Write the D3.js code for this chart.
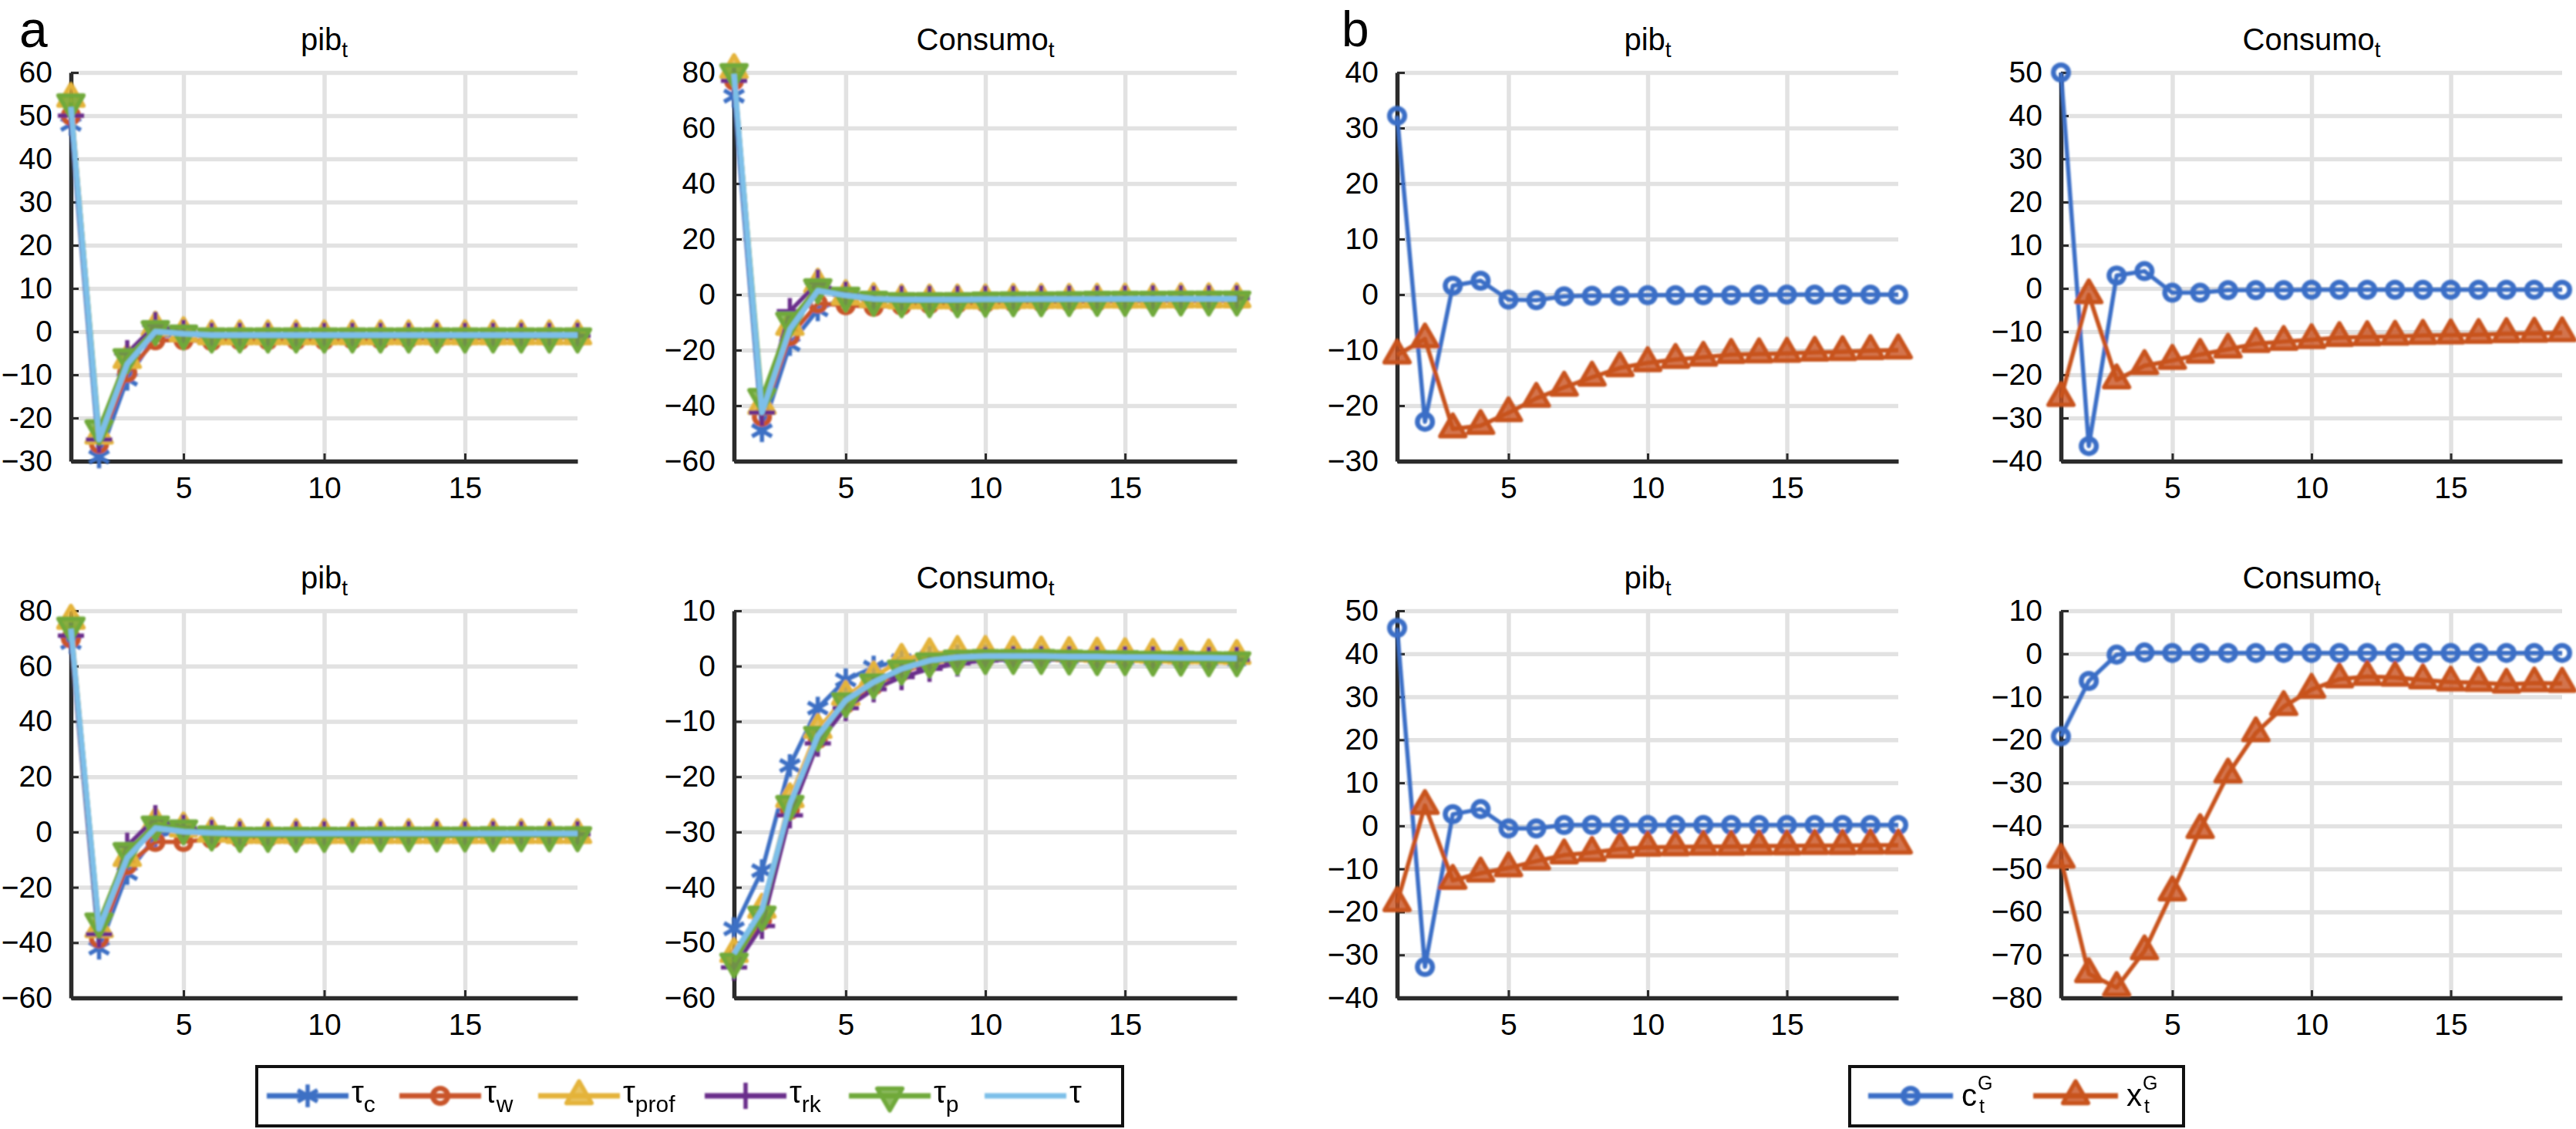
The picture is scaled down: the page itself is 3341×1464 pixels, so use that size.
<!DOCTYPE html>
<html>
<head>
<meta charset="utf-8">
<script src="https://cdn.jsdelivr.net/npm/d3@7"></script>
<style>
  body { margin: 0; background: #fff; }
  svg { display: block; font-family: "Liberation Sans", Arial, Helvetica, sans-serif; }
</style>
</head>
<body>
<svg id="chart" width="3341" height="1464"></svg>
<script>
// horizon (quarters after the shock) and shared x ticks
const horizon = [1, 2, 3, 4, 5, 6, 7, 8, 9, 10, 11, 12, 13, 14, 15, 16, 17, 18, 19];
const xTicks = [5, 10, 15];

// panel a: one row per tax shock, order tc, tw, tprof, trk, tp, t
const taxSubs = ['c', 'w', 'prof', 'rk', 'p', ''];
const taxColors = ['#3d70c4', '#c9552b', '#e4b33a', '#6b2d8b', '#70a93a', '#7dbfe9'];
const taxMarkers = ['asterisk', 'circle', 'up', 'plus', 'down', null];

const aPibTop = [
  [48, -29, -11, -1, -0.8, -1, -1, -1, -1, -1, -1, -1, -1, -1, -1, -1, -1, -1, -1],
  [50, -26, -9.5, -2, -2, -2.2, -2, -2, -2, -2, -1.8, -1.8, -1.6, -1.6, -1.5, -1.5, -1.5, -1.4, -1.4],
  [54, -24, -6.5, 1, -0.3, -1, -1, -1, -1, -1, -1, -1, -1, -1, -1, -1, -1, -1, -1],
  [50, -25, -5, 1.5, -0.3, -1, -1, -1, -1, -1, -1, -1, -1, -1, -1, -1, -1, -1, -1],
  [53, -22.5, -6, 0.5, -0.5, -1.2, -1.2, -1.2, -1.2, -1.2, -1.2, -1.2, -1.2, -1.2, -1.2, -1.2, -1.2, -1.2, -1.2],
  [52, -25, -7.5, 0, -0.5, -0.8, -0.8, -0.8, -0.8, -0.8, -0.8, -0.8, -0.8, -0.8, -0.8, -0.8, -0.8, -0.8, -0.8]
];
const aConsTop = [
  [71.5, -49, -18, -5.5, -1, -1.5, -1.8, -1.8, -1.8, -1.8, -1.8, -1.7, -1.7, -1.7, -1.6, -1.6, -1.6, -1.5, -1.5],
  [77, -44, -15, -3.2, -3.8, -4.4, -4, -3.5, -3.2, -3, -2.8, -2.7, -2.6, -2.5, -2.4, -2.3, -2.3, -2.2, -2.2],
  [81, -40, -11.5, 3.7, -0.5, -1.5, -2, -2, -2, -2, -1.8, -1.8, -1.8, -1.7, -1.7, -1.7, -1.6, -1.6, -1.6],
  [77, -42.5, -6, 4.3, 0, -1.5, -1.5, -1.5, -1.5, -1.5, -1.5, -1.4, -1.4, -1.4, -1.4, -1.3, -1.3, -1.3, -1.3],
  [80, -37, -9.5, 2.5, -0.5, -2, -2.5, -2.5, -2.5, -2.3, -2.2, -2.2, -2.1, -2, -2, -2, -1.9, -1.9, -1.9],
  [79.5, -42.5, -12.5, 1.4, -0.3, -1.5, -1.8, -1.8, -1.8, -1.7, -1.7, -1.6, -1.6, -1.6, -1.5, -1.5, -1.5, -1.5, -1.5]
];
const aPibBottom = [
  [68.5, -42, -15, -1.8, 1, -0.5, -0.8, -0.8, -0.8, -0.8, -0.8, -0.8, -0.8, -0.8, -0.8, -0.8, -0.8, -0.8, -0.8],
  [70, -38.5, -12, -3.6, -3.6, -2.5, -2.2, -2, -2, -1.8, -1.8, -1.6, -1.6, -1.5, -1.5, -1.5, -1.4, -1.4, -1.4],
  [76.5, -35, -9.3, 3.3, 1.4, -0.5, -1, -1, -1, -1, -1, -1, -1, -1, -1, -1, -1, -1, -1],
  [71, -37, -5, 5, 1.5, -0.3, -0.8, -0.8, -0.8, -0.8, -0.8, -0.8, -0.8, -0.8, -0.8, -0.8, -0.8, -0.8, -0.8],
  [74.5, -32.5, -7, 2.6, 1.2, -1, -1.5, -1.5, -1.5, -1.5, -1.5, -1.4, -1.4, -1.4, -1.4, -1.3, -1.3, -1.3, -1.3],
  [73.5, -35, -9.3, 1.4, 0.1, -0.3, -0.5, -0.5, -0.5, -0.5, -0.5, -0.5, -0.5, -0.5, -0.5, -0.5, -0.5, -0.5, -0.5]
];
const aConsBottom = [
  [-47.5, -37, -18, -7.6, -2.5, -0.2, 1, 1.6, 1.8, 1.8, 1.8, 1.8, 1.7, 1.7, 1.6, 1.5, 1.5, 1.4, 1.3],
  [-53, -46, -26, -13.2, -6.8, -3.5, -1, 0.5, 1.2, 1.5, 1.6, 1.6, 1.6, 1.5, 1.5, 1.4, 1.4, 1.3, 1.3],
  [-52, -44, -24, -11.5, -5.5, -2, 1.2, 2.2, 2.6, 2.6, 2.5, 2.5, 2.4, 2.3, 2.2, 2.1, 2, 2, 1.9],
  [-54.5, -47, -27, -14, -7.6, -4.2, -2, -0.5, 0.5, 1, 1.2, 1.2, 1.2, 1.2, 1.2, 1.2, 1.1, 1.1, 1.1],
  [-53.5, -45, -25, -12.5, -6.4, -3, -0.5, 0.8, 1.3, 1.4, 1.4, 1.4, 1.3, 1.2, 1.2, 1.1, 1.1, 1, 1],
  [-52, -44, -25, -12.6, -6.2, -2.9, -0.5, 1, 1.6, 1.8, 1.8, 1.8, 1.7, 1.7, 1.6, 1.6, 1.5, 1.5, 1.4]
];

// panel b: government consumption (c) and investment (x) shocks
const govBases = ['c', 'x'];
const govColors = ['#3b6ec6', '#c8521f'];
const govMarkers = ['circle', 'up'];

const bPibTop = [
  [32.2, -22.9, 1.6, 2.5, -0.9, -1, -0.3, -0.2, -0.2, -0.1, -0.1, -0.1, -0.1, 0, 0, 0, 0, 0, 0],
  [-10.9, -8, -24.2, -23.6, -21.3, -18.7, -16.7, -14.9, -13.2, -12.3, -11.7, -11.3, -10.8, -10.7, -10.6, -10.4, -10.3, -10.1, -10]
];
const bConsTop = [
  [50, -36.5, 3, 4, -1, -1, -0.4, -0.4, -0.4, -0.3, -0.3, -0.3, -0.3, -0.3, -0.3, -0.3, -0.3, -0.3, -0.3],
  [-25.3, -1.5, -21.2, -17.9, -16.7, -15.3, -14.1, -12.8, -12.3, -11.9, -11.4, -11.2, -11.1, -10.9, -10.8, -10.7, -10.5, -10.4, -10.3]
];
const bPibBottom = [
  [46, -32.8, 2.7, 3.9, -0.6, -0.6, 0.2, 0.2, 0.2, 0.2, 0.2, 0.2, 0.2, 0.2, 0.2, 0.2, 0.2, 0.2, 0.2],
  [-17.9, 4.7, -12.7, -11, -9.8, -8.2, -6.8, -6.2, -5.4, -5, -4.9, -4.8, -4.8, -4.7, -4.7, -4.6, -4.6, -4.5, -4.5]
];
const bConsBottom = [
  [-19.2, -6.3, -0.2, 0.3, 0.2, 0.2, 0.2, 0.2, 0.2, 0.2, 0.2, 0.2, 0.2, 0.2, 0.2, 0.2, 0.2, 0.2, 0.2],
  [-47.8, -74.4, -77.6, -69.1, -55.4, -40.9, -28, -18.4, -12.3, -8.3, -5.9, -5.3, -5.5, -6.1, -6.6, -6.7, -7.1, -6.8, -6.9]
];

// y tick labels per panel
const ticksAPibTop = [-30, -20, -10, 0, 10, 20, 30, 40, 50, 60];
const ticksAConsTop = [-60, -40, -20, 0, 20, 40, 60, 80];
const ticksAPibBottom = [-60, -40, -20, 0, 20, 40, 60, 80];
const ticksAConsBottom = [-60, -50, -40, -30, -20, -10, 0, 10];
const ticksBPibTop = [-30, -20, -10, 0, 10, 20, 30, 40];
const ticksBConsTop = [-40, -30, -20, -10, 0, 10, 20, 30, 40, 50];
const ticksBPibBottom = [-40, -30, -20, -10, 0, 10, 20, 30, 40, 50];
const ticksBConsBottom = [-80, -70, -60, -50, -40, -30, -20, -10, 0, 10];

// ---- layout ----
const W = 3341, H = 1464;
const rows = [{ y0: 94, y1: 598 }, { y0: 792, y1: 1294 }];
const cols = [[92, 749], [952, 1604], [1812, 2462], [2673, 3323]];

const panels = [
  { col: 0, row: 0, title: 'pib', ticks: ticksAPibTop, data: aPibTop, kind: 'tax', hyphen: [-20] },
  { col: 1, row: 0, title: 'Consumo', ticks: ticksAConsTop, data: aConsTop, kind: 'tax' },
  { col: 0, row: 1, title: 'pib', ticks: ticksAPibBottom, data: aPibBottom, kind: 'tax' },
  { col: 1, row: 1, title: 'Consumo', ticks: ticksAConsBottom, data: aConsBottom, kind: 'tax' },
  { col: 2, row: 0, title: 'pib', ticks: ticksBPibTop, data: bPibTop, kind: 'gov' },
  { col: 3, row: 0, title: 'Consumo', ticks: ticksBConsTop, data: bConsTop, kind: 'gov' },
  { col: 2, row: 1, title: 'pib', ticks: ticksBPibBottom, data: bPibBottom, kind: 'gov' },
  { col: 3, row: 1, title: 'Consumo', ticks: ticksBConsBottom, data: bConsBottom, kind: 'gov' }
];

const svg = d3.select('#chart');
svg.append('rect').attr('width', W).attr('height', H).attr('fill', '#fff');

// the source is a soft, low-res scan: a slight blur on the marks matches it better
// (user-space region so a flat legend line still gets drawn)
svg.append('defs').append('filter').attr('id', 'soft')
  .attr('filterUnits', 'userSpaceOnUse')
  .attr('x', 0).attr('y', 0).attr('width', W).attr('height', H)
  .append('feGaussianBlur').attr('stdDeviation', 1.3);

const TICK_FONT = 39;

function markerPath(type) {
  switch (type) {
    case 'asterisk': return d3.symbol(d3.symbolAsterisk, 620)();
    case 'circle': return d3.symbol(d3.symbolCircle, 300)();
    case 'up':
    case 'down': return d3.symbol(d3.symbolTriangle, 460)();
    case 'plus': return d3.symbol(d3.symbolPlus, 380)();
  }
  return null;
}

function styleMarker(sel, type, color) {
  const solid = type === 'up' || type === 'down';
  sel.attr('fill', solid ? color : 'none')
    .attr('fill-opacity', solid ? 0.8 : null)
    .attr('stroke', color)
    .attr('stroke-width', type === 'circle' ? 6.5 : 5.5)
    .attr('stroke-linejoin', 'round');
}

function drawMarkers(g, pts, type, color, x, y) {
  const rot = type === 'down' ? ' rotate(180)' : '';
  g.selectAll(null)
    .data(pts)
    .join('path')
    .attr('d', markerPath(type))
    .attr('transform', d => `translate(${x(d[0])},${y(d[1])})${rot}`)
    .call(styleMarker, type, color);
}

function drawPanel(p) {
  const [x0, x1] = cols[p.col];
  const { y0, y1 } = rows[p.row];
  const g = svg.append('g');
  const x = d3.scaleLinear().domain([1, 19]).range([x0, x1]);
  const y = d3.scaleLinear().domain(d3.extent(p.ticks)).range([y1, y0]);

  // grid
  const gy = g.append('g').attr('transform', `translate(${x0},0)`)
    .call(d3.axisLeft(y).tickValues(p.ticks).tickSize(-(x1 - x0)).tickFormat(''));
  const gx = g.append('g').attr('transform', `translate(0,${y1})`)
    .call(d3.axisBottom(x).tickValues(xTicks).tickSize(-(y1 - y0)).tickFormat(''));
  [gy, gx].forEach(s => {
    s.select('.domain').remove();
    s.selectAll('line').attr('stroke', '#e2e2e2').attr('stroke-width', 5.5);
  });

  // axes
  const hy = p.hyphen || [];
  const fmt = d => d < 0 ? (hy.includes(d) ? '-' : '\u2212') + Math.abs(d) : String(d);
  const ay = g.append('g').attr('transform', `translate(${x0},0)`)
    .call(d3.axisLeft(y).tickValues(p.ticks).tickSizeInner(-10).tickSizeOuter(0).tickPadding(24).tickFormat(fmt));
  const ax = g.append('g').attr('transform', `translate(0,${y1})`)
    .call(d3.axisBottom(x).tickValues(xTicks).tickSizeInner(-10).tickSizeOuter(0).tickPadding(20));
  [ay, ax].forEach(s => {
    s.attr('font-size', TICK_FONT).attr('font-family', null);
    s.select('.domain').attr('stroke', '#2b2b2b').attr('stroke-width', 5.5);
    s.selectAll('.tick line').attr('stroke', '#2b2b2b').attr('stroke-width', 3);
    s.selectAll('text').attr('fill', '#000');
  });

  // title with subscript t
  const t = g.append('text')
    .attr('x', (x0 + x1) / 2).attr('y', y0 - 29)
    .attr('text-anchor', 'middle').attr('font-size', 40).attr('fill', '#000');
  t.append('tspan').text(p.title);
  t.append('tspan').attr('font-size', 28).attr('dy', 9).text('t');

  // series
  const marks = g.append('g').attr('filter', 'url(#soft)');
  const line = d3.line().x(d => x(d[0])).y(d => y(d[1]));
  const colors = p.kind === 'tax' ? taxColors : govColors;
  const markers = p.kind === 'tax' ? taxMarkers : govMarkers;
  p.data.forEach((vals, i) => {
    const pts = vals.map((v, j) => [horizon[j], v]);
    const isTau = p.kind === 'tax' && i === taxSubs.length - 1;
    marks.append('path').datum(pts)
      .attr('d', line)
      .attr('fill', 'none')
      .attr('stroke', colors[i])
      .attr('stroke-width', isTau ? 7 : 5.5)
      .attr('stroke-linejoin', 'round');
    if (markers[i]) drawMarkers(marks, pts, markers[i], colors[i], x, y);
  });
}

panels.forEach(drawPanel);

// panel letters
svg.append('text').attr('x', 25).attr('y', 61).attr('font-size', 66).text('a');
svg.append('text').attr('x', 1740).attr('y', 60).attr('font-size', 64).text('b');

// ---- legends ----
function legendSample(g, xs, len, yy, color, marker) {
  const s = g.append('g').attr('filter', 'url(#soft)');
  s.append('line').attr('x1', xs).attr('x2', xs + len).attr('y1', yy).attr('y2', yy)
    .attr('stroke', color).attr('stroke-width', 7);
  if (marker) {
    const rot = marker === 'down' ? ' rotate(180)' : '';
    s.append('path').attr('d', markerPath(marker))
      .attr('transform', `translate(${xs + len / 2},${yy})${rot}`)
      .call(styleMarker, marker, color);
  }
}

const legA = svg.append('g');
legA.append('rect').attr('x', 333).attr('y', 1383).attr('width', 1123).attr('height', 77)
  .attr('fill', '#fff').attr('stroke', '#111').attr('stroke-width', 4);
const legAStarts = [346, 518, 698, 914, 1101, 1277];
taxSubs.forEach((s, i) => {
  const xs = legAStarts[i];
  legendSample(legA, xs, 106, 1421, taxColors[i], taxMarkers[i]);
  const tx = legA.append('text').attr('x', xs + 110).attr('y', 1430).attr('font-size', 40).attr('fill', '#000');
  tx.append('tspan').text('\u03C4');
  if (s) tx.append('tspan').attr('font-size', 30).attr('dy', 12).text(s);
});

const legB = svg.append('g');
legB.append('rect').attr('x', 2399).attr('y', 1383).attr('width', 433).attr('height', 77)
  .attr('fill', '#fff').attr('stroke', '#111').attr('stroke-width', 4);
const legBStarts = [2423, 2637];
govBases.forEach((b, i) => {
  const xs = legBStarts[i];
  legendSample(legB, xs, 110, 1421, govColors[i], govMarkers[i]);
  const lx = xs + 121;
  const base = legB.append('text').attr('x', lx).attr('y', 1434).attr('font-size', 40).attr('fill', '#000').text(b);
  const w = base.node().getComputedTextLength();
  legB.append('text').attr('x', lx + w + 1).attr('y', 1413).attr('font-size', 25).attr('fill', '#000').text('G');
  legB.append('text').attr('x', lx + w + 3).attr('y', 1443).attr('font-size', 25).attr('fill', '#000').text('t');
});
</script>
</body>
</html>
